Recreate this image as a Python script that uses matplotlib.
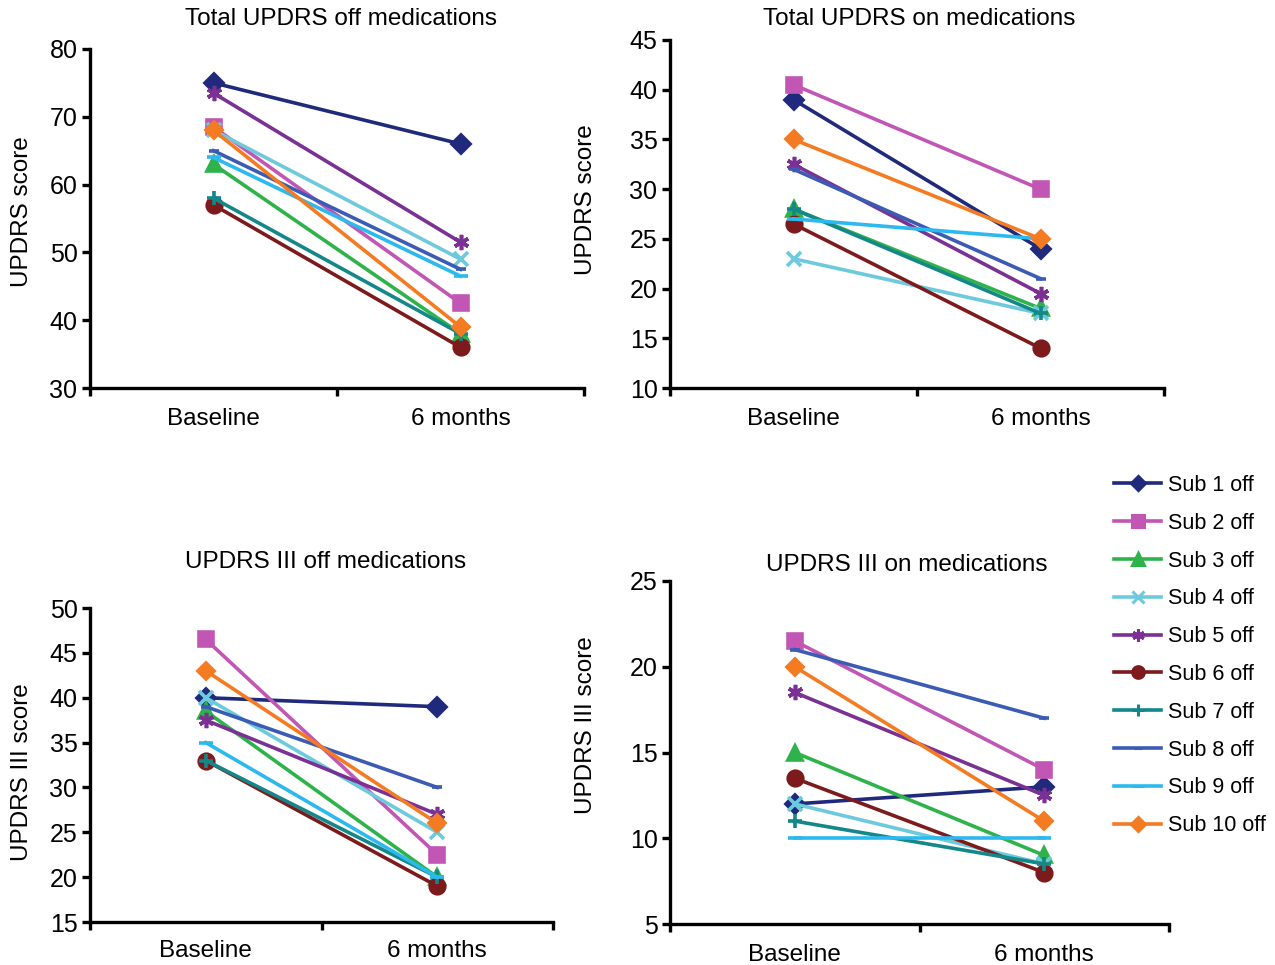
import matplotlib
matplotlib.use("Agg")
import matplotlib.pyplot as plt
from matplotlib.lines import Line2D

plt.rcParams['font.family'] = ['Liberation Sans', 'DejaVu Sans']

# data, (baseline, 6 months) per subject
subjects = ['Sub 1 off', 'Sub 2 off', 'Sub 3 off', 'Sub 4 off', 'Sub 5 off',
            'Sub 6 off', 'Sub 7 off', 'Sub 8 off', 'Sub 9 off', 'Sub 10 off']
timepoints = ['Baseline', '6 months']

total_off = [(75, 66), (68.5, 42.5), (63, 38), (68, 49), (73.5, 51.5),
             (57, 36), (58, 38), (65, 47.5), (64, 46.5), (68, 39)]
total_on = [(39, 24), (40.5, 30), (28, 18), (23, 17.5), (32.5, 19.5),
            (26.5, 14), (28, 17.5), (32, 21), (27, 25), (35, 25)]
u3_off = [(40, 39), (46.5, 22.5), (38.5, 20), (40, 25), (37.5, 27),
          (33, 19), (33, 20), (39, 30), (35, 20), (43, 26)]
u3_on = [(12, 13), (21.5, 14), (15, 9), (12, 8.5), (18.5, 12.5),
         (13.5, 8), (11, 8.5), (21, 17), (10, 10), (20, 11)]

colors = ['#1f2a7c', '#c156b4', '#2eb34b', '#6ccadc', '#7a3193',
          '#7d1a1c', '#148789', '#3b5bb5', '#2cb9ee', '#f57b22']
markers = ['D', 's', '^', 'x', (6, 2, 0), 'o', '+', '_', '_', 'D']
msizes = [9, 10.5, 10, 10, 11, 10.5, 10, 7, 10, 8.5]

W, H = 1275, 965
fig = plt.figure(figsize=(W / 100, H / 100), dpi=100)

def px_box(l, r, t, b):
    return [l / W, 1 - b / H, (r - l) / W, (b - t) / H]

def panel(box, data, ylim, yticks, title, title_xy, ylabel, ylabel_xy):
    ax = fig.add_axes(px_box(*box))
    for i in range(len(subjects)):
        ax.plot([0, 1], data[i], color=colors[i], lw=2.6, marker=markers[i],
                ms=msizes[i], mew=2.6, label=subjects[i], clip_on=False)
    ax.set_xlim(-0.5, 1.5)
    ax.set_ylim(*ylim)
    ax.set_yticks(yticks)
    ax.set_xticks([-0.5, 0.5, 1.5])
    ax.set_xticklabels([])
    for k, t in enumerate(timepoints):
        ax.text(k, -0.058, t, transform=ax.get_xaxis_transform(), ha='center',
                va='top', fontsize=17.5)
    ax.spines['top'].set_visible(False)
    ax.spines['right'].set_visible(False)
    ax.spines['left'].set_linewidth(2.4)
    ax.spines['bottom'].set_linewidth(2.4)
    ax.tick_params(direction='out', length=6, width=2.4, labelsize=18, pad=3)
    fig.text(title_xy[0] / W, 1 - title_xy[1] / H, title, ha='center',
             va='center', fontsize=17.5)
    fig.text(ylabel_xy[0] / W, 1 - ylabel_xy[1] / H, ylabel, ha='center',
             va='center', rotation=90, fontsize=17.5)
    return ax

panel((90, 584, 49, 388), total_off, (30, 80), range(30, 81, 10),
      'Total UPDRS off medications', (341, 19), 'UPDRS score', (22, 212))
panel((670, 1164, 40, 388), total_on, (10, 45), range(10, 46, 5),
      'Total UPDRS on medications', (919, 19), 'UPDRS score', (586, 200))
panel((90, 553, 608, 922), u3_off, (15, 50), range(15, 51, 5),
      'UPDRS III off medications', (326, 562), 'UPDRS III score', (22, 772))
panel((670, 1169, 581, 924), u3_on, (5, 25), range(5, 26, 5),
      'UPDRS III on medications', (907, 565), 'UPDRS III score', (586, 725))

handles = [Line2D([], [], color=colors[i], lw=2.6, marker=markers[i],
                  ms=msizes[i] * 0.8, mew=2.2) for i in range(len(subjects))]
fig.legend(handles, subjects, loc='upper left',
           bbox_to_anchor=(1114 / W, 1 - 475 / H), frameon=False, fontsize=15.5,
           handlelength=2.2, handletextpad=0.3, labelspacing=0.78,
           borderaxespad=0, borderpad=0)

fig.savefig('out.png', dpi=100)
